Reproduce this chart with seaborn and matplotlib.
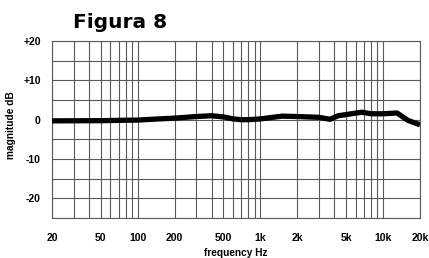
import matplotlib
matplotlib.use("Agg")
import matplotlib.pyplot as plt
from matplotlib.ticker import FixedLocator, LogLocator, NullFormatter
import seaborn as sns
import pandas as pd

# response curve
freq_hz = [20, 50, 100, 150, 200, 300, 400, 500, 600, 700, 800, 1000, 1500,
           2000, 3000, 3700, 4300, 5000, 6700, 8000, 10000, 13000, 16000, 20000]
mag_db = [-0.3, -0.25, -0.1, 0.2, 0.4, 0.8, 1.0, 0.7, 0.2, 0.0, 0.0, 0.2, 0.9,
          0.8, 0.6, 0.1, 1.0, 1.3, 1.9, 1.5, 1.5, 1.7, -0.2, -1.3]

x_ticks = [20, 50, 100, 200, 500, 1000, 2000, 5000, 10000, 20000]
x_labels = ['20', '50', '100', '200', '500', '1k', '2k', '5k', '10k', '20k']
y_ticks = [-20, -10, 0, 10, 20]
y_labels = ['-20', '-10', '0', '+10', '+20']

sns.set_theme(style="white", rc={'text.color': 'black', 'xtick.color': 'black',
                                 'ytick.color': 'black', 'axes.labelcolor': 'black'})
plt.rcParams['font.family'] = ['Liberation Sans', 'DejaVu Sans']

df = pd.DataFrame({'freq': freq_hz, 'db': mag_db})

fig = plt.figure(figsize=(4.29, 2.58), dpi=100)
ax = fig.add_axes([0.121, 0.155, 0.858, 0.686])
sns.lineplot(data=df, x='freq', y='db', color='black', linewidth=3.8, ax=ax,
             solid_capstyle='butt', zorder=5)

ax.set_xscale('log')
ax.set_xlim(20, 20000)
ax.set_ylim(-25, 20)
ax.xaxis.set_major_locator(FixedLocator(x_ticks))
ax.set_xticklabels(x_labels)
ax.xaxis.set_minor_locator(LogLocator(base=10, subs=range(1, 10)))
ax.xaxis.set_minor_formatter(NullFormatter())
ax.set_yticks(y_ticks)
ax.set_yticklabels(y_labels)
ax.yaxis.set_minor_locator(FixedLocator(range(-25, 21, 5)))

ax.grid(True, which='both', color='#5a5a5a', linewidth=0.8)
ax.tick_params(which='both', length=0)
ax.tick_params(axis='x', pad=11, labelsize=7.5)
ax.tick_params(axis='y', pad=8, labelsize=7.5)
for lab in ax.get_xticklabels() + ax.get_yticklabels():
    lab.set_fontweight('bold')
for s in ax.spines.values():
    s.set_color('#5a5a5a')
    s.set_linewidth(0.8)

ax.set_xlabel('frequency Hz', fontsize=7.3, fontweight='bold')
ax.set_ylabel('magnitude dB', fontsize=7.3, fontweight='bold')
ax.xaxis.set_label_coords(0.5, -0.17)
ax.yaxis.set_label_coords(-0.097, 0.525)

fig.text(0.279, 0.95, 'Figura 8', fontsize=14.5, fontweight='bold', ha='center', va='top',
         family='DejaVu Sans')

fig.savefig('out.png', dpi=100)
